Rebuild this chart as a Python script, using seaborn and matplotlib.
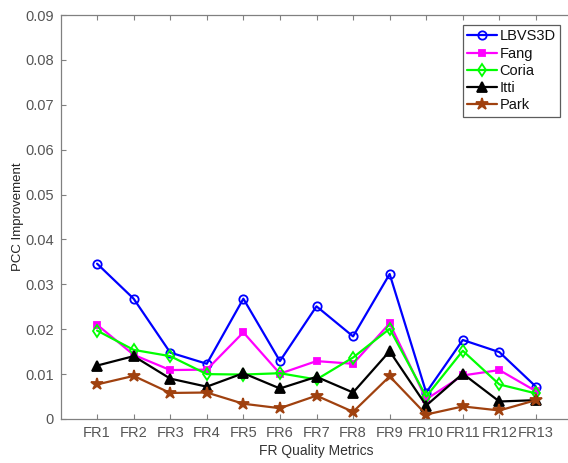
import matplotlib
matplotlib.use('Agg')
import matplotlib.pyplot as plt
import seaborn as sns
import pandas as pd

metrics = ['FR1', 'FR2', 'FR3', 'FR4', 'FR5', 'FR6', 'FR7',
           'FR8', 'FR9', 'FR10', 'FR11', 'FR12', 'FR13']

lbvs3d = [0.0346, 0.0268, 0.0148, 0.0123, 0.0268, 0.0129, 0.0251,
          0.0184, 0.0323, 0.0059, 0.0176, 0.0149, 0.0072]
fang = [0.0210, 0.0143, 0.0109, 0.0110, 0.0193, 0.0101, 0.0129,
        0.0123, 0.0213, 0.0044, 0.0097, 0.0109, 0.0062]
coria = [0.0197, 0.0154, 0.0140, 0.0100, 0.0099, 0.0102, 0.0088,
         0.0137, 0.0201, 0.0050, 0.0152, 0.0077, 0.0057]
itti = [0.0119, 0.0140, 0.0090, 0.0072, 0.0102, 0.0068, 0.0094,
        0.0059, 0.0151, 0.0030, 0.0101, 0.0039, 0.0042]
park = [0.0077, 0.0096, 0.0058, 0.0059, 0.0034, 0.0024, 0.0052,
        0.0016, 0.0095, 0.0010, 0.0028, 0.0019, 0.0042]

series = {'LBVS3D': lbvs3d, 'Fang': fang, 'Coria': coria, 'Itti': itti, 'Park': park}

# style per method: colour, marker, size, filled?
styles = {
    'LBVS3D': ('#0000ff', 'o', 6, False),
    'Fang': ('#ff00ff', 's', 5, True),
    'Coria': ('#00ff00', 'd', 6.5, False),
    'Itti': ('#000000', '^', 7, True),
    'Park': ('#a0410f', '*', 9, True),
}

sns.set_theme(style='white')
plt.rcParams['font.family'] = ['Liberation Sans', 'DejaVu Sans']

fig = plt.figure(figsize=(5.68, 4.63), dpi=100)
ax = fig.add_axes([60.5 / 568, 44 / 463, 512 / 568, 404 / 463])

for name, vals in series.items():
    df = pd.DataFrame({'metric': list(range(1, 14)), 'value': vals})
    color, marker, ms, filled = styles[name]
    sns.lineplot(data=df, x='metric', y='value', ax=ax, label=name,
                 color=color, marker=marker, markersize=ms, linewidth=1.6,
                 markeredgecolor=color, markeredgewidth=1.3,
                 markerfacecolor=color if filled else 'none')

ax.set_xlim(0, 14)
ax.set_ylim(0, 0.09)
ax.set_xticks(range(1, 14))
ax.set_xticklabels(metrics)
ax.set_yticks([i / 100 for i in range(10)])
ax.set_yticklabels(['0'] + ['%.2f' % (i / 100) for i in range(1, 10)])

for side in ['left', 'right', 'top', 'bottom']:
    ax.spines[side].set_visible(True)
    ax.spines[side].set_color('#808080')
    ax.spines[side].set_linewidth(0.9)
ax.tick_params(direction='in', length=3.5, width=0.8, color='#808080',
               labelsize=10.5, labelcolor='#555555', top=True, right=True,
               bottom=True, left=True, pad=5)

ax.set_xlabel('FR Quality Metrics', fontsize=10, color='#333333', labelpad=3)
ax.set_ylabel('PCC Improvement', fontsize=9.5, color='#222222', labelpad=0.5)

leg = ax.legend(loc='upper right', bbox_to_anchor=(0.9756, 0.975), borderaxespad=0,
                fancybox=False, frameon=True, fontsize=10.5, handlelength=2.0,
                labelspacing=0.22, handletextpad=0.2, borderpad=0.3)
leg.get_frame().set_edgecolor('#333333')
leg.get_frame().set_linewidth(0.9)
for t in leg.get_texts():
    t.set_color('#111111')

fig.savefig('out.png', dpi=100)
